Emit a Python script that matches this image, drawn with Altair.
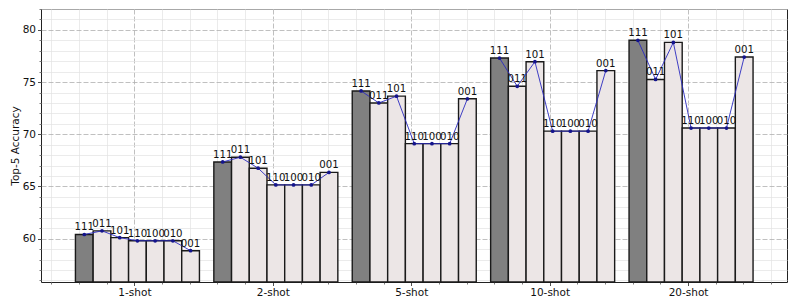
import altair as alt
import pandas as pd

shots = ["1-shot", "2-shot", "5-shot", "10-shot", "20-shot"]
configs = ["111", "011", "101", "110", "100", "010", "001"]
acc_1shot = [60.40, 60.75, 60.10, 59.80, 59.80, 59.80, 58.85]
acc_2shot = [67.35, 67.80, 66.75, 65.15, 65.15, 65.15, 66.35]
acc_5shot = [74.15, 73.00, 73.65, 69.10, 69.10, 69.10, 73.40]
acc_10shot = [77.30, 74.60, 76.95, 70.30, 70.30, 70.30, 76.10]
acc_20shot = [79.00, 75.25, 78.80, 70.60, 70.60, 70.60, 77.40]
series = [acc_1shot, acc_2shot, acc_5shot, acc_10shot, acc_20shot]

y_major = [60, 65, 70, 75, 80]
y_minor = [v for v in range(56, 83) if v % 5 != 0]
x_major = [0, 1, 2, 3, 4]
x_minor = [round(-0.6 + 0.2 * k, 1) for k in range(27)]
x_minor = [v for v in x_minor if abs(v - round(v)) > 1e-6]

W = 0.128
K = 2.83
rows = []
for g, (shot, vals) in enumerate(zip(shots, series)):
    for i, (cfg, v) in enumerate(zip(configs, vals)):
        xc = g + (i - K) * W
        rows.append({"shot": shot, "g": g, "i": i, "cfg": cfg, "acc": v,
                     "xc": xc, "xl": xc - W / 2, "xr": xc + W / 2,
                     "kind": "full" if i == 0 else "ablation"})
df = pd.DataFrame(rows)

HEIGHT = 273
ydom = [55.85, 82.0]
xdom = [-0.675, 4.715]

label_expr = "[" + ",".join("'%s'" % s for s in shots) + "][datum.value]"

xs_major = alt.Scale(domain=xdom, nice=False, zero=False)
ys = alt.Scale(domain=ydom, nice=False, zero=False)

major_x_axis = alt.Axis(values=x_major, labelExpr=label_expr, grid=True,
                        gridDash=[5, 2], gridColor="#b0b0b0", gridWidth=0.8,
                        tickSize=3.5, tickColor="#222", tickWidth=0.8,
                        domain=False, title=None, labelFont="DejaVu Sans",
                        labelFontSize=10.5, labelColor="#111", labelPadding=2,
                        orient="bottom")
minor_x_axis = alt.Axis(values=x_minor, labels=False, grid=True,
                        gridColor="#e2e2e2", gridWidth=0.7, tickSize=2,
                        tickColor="#222", tickWidth=0.6, domain=False,
                        title=None, orient="bottom")
major_y_axis = alt.Axis(values=y_major, grid=True, gridDash=[5, 2],
                        gridColor="#b0b0b0", gridWidth=0.8, tickSize=3.5,
                        tickColor="#222", tickWidth=0.8, domain=False,
                        title="Top-5 Accuracy", titleFont="DejaVu Sans",
                        titleFontSize=10.5, titleFontWeight="normal",
                        titleColor="#111", titlePadding=2,
                        labelFont="DejaVu Sans", labelFontSize=10.5,
                        labelColor="#111", labelPadding=2, orient="left")
minor_y_axis = alt.Axis(values=y_minor, labels=False, grid=True,
                        gridColor="#e2e2e2", gridWidth=0.7, tickSize=2,
                        tickColor="#222", tickWidth=0.6, domain=False,
                        title=None, orient="left")

base = alt.Chart(df)

minor_layer = base.mark_point(opacity=0).encode(
    x=alt.X("xc:Q", scale=xs_major, axis=minor_x_axis),
    y=alt.Y("acc:Q", scale=ys, axis=minor_y_axis),
)

bars = base.mark_rect(stroke="#1a1a1a", strokeWidth=1.4).encode(
    x=alt.X("xl:Q", scale=xs_major, axis=major_x_axis),
    x2="xr:Q",
    y=alt.Y("acc:Q", scale=ys, axis=major_y_axis),
    y2=alt.value(HEIGHT),
    fill=alt.Fill("kind:N", scale=alt.Scale(domain=["full", "ablation"],
                                             range=["#808080", "#ece6e6"]),
                  legend=None),
)

line = base.mark_line(color="#2a2ac0", strokeWidth=0.9).encode(
    x=alt.X("xc:Q", scale=xs_major, axis=None),
    y=alt.Y("acc:Q", scale=ys, axis=None),
    detail="g:N",
    order="i:Q",
)

pts = base.mark_circle(color="#14148c", size=14, opacity=1).encode(
    x=alt.X("xc:Q", scale=xs_major, axis=None),
    y=alt.Y("acc:Q", scale=ys, axis=None),
)

labels = base.mark_text(font="DejaVu Sans", fontSize=10.2, color="#111",
                        baseline="alphabetic", dy=-4).encode(
    x=alt.X("xc:Q", scale=xs_major, axis=None),
    y=alt.Y("acc:Q", scale=ys, axis=None),
    text="cfg:N",
)

chart = alt.layer(minor_layer, bars, line, pts, labels).resolve_axis(
    x="independent", y="independent"
).properties(
    width=746, height=HEIGHT,
    autosize=alt.AutoSizeParams(type="none"),
    padding={"left": 33, "top": 1, "right": 2, "bottom": 18},
).configure_view(stroke="#222", strokeWidth=1)

chart.save("out.html", embed_options={"renderer": "svg", "actions": False})
